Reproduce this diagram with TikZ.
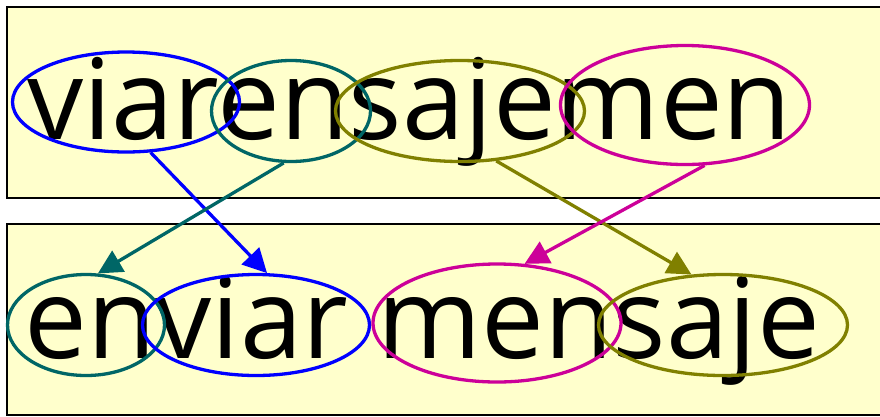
\documentclass[tikz,border=0pt]{standalone}
\usepackage{fontspec}
\setmainfont{Open Sans}
\usetikzlibrary{shapes.geometric,arrows.meta}
\definecolor{cblue}{RGB}{0,0,255}
\definecolor{cteal}{RGB}{0,102,102}
\definecolor{colive}{RGB}{128,128,0}
\definecolor{cmag}{RGB}{204,0,153}
\definecolor{bgyel}{RGB}{255,255,204}
\begin{document}
\begin{tikzpicture}[x=1pt,y=-1pt,
  panel/.style={draw=black,line width=1.5pt,fill=bgyel},
  word/.style={inner sep=0pt,anchor=base west,font=\fontsize{112}{116}\selectfont},
  ell/.style={ellipse,draw=#1,line width=3.3pt,inner sep=0pt},
  arr/.style={draw=#1,line width=3.3pt,-{Triangle[length=24pt,width=24pt]}}]
\useasboundingbox (0,0) rectangle (880,416);
\clip (0,0) rectangle (880,416);
\draw[panel] (7,7) rectangle (895,198);
\draw[panel] (7,224) rectangle (895,415);
\node[word] (ttext) at (27,139) {viarensajemen};
\node[word] (btext) at (24,358) {enviar mensaje};
% top ellipses
\node[ell=cblue,minimum width=227pt,minimum height=100pt] (tviar) at (126,102) {};
\node[ell=cteal,minimum width=159pt,minimum height=101pt] (ten) at (291,111) {};
\node[ell=colive,minimum width=249pt,minimum height=101pt] (tsaje) at (460,111) {};
\node[ell=cmag,minimum width=249pt,minimum height=119pt] (tmen) at (685,105) {};
% bottom ellipses
\node[ell=cteal,minimum width=157pt,minimum height=101pt] (ben) at (86,325) {};
\node[ell=cblue,minimum width=227pt,minimum height=101pt] (bviar) at (256,325) {};
\node[ell=cmag,minimum width=248pt,minimum height=118pt] (bmen) at (497,323) {};
\node[ell=colive,minimum width=249pt,minimum height=101pt] (bsaje) at (723,325) {};
% arrows
\draw[arr=cblue] (tviar.-64) -- (bviar.78);
\draw[arr=cteal] (ten.-98) -- (ben.77);
\draw[arr=colive] (tsaje.-54) -- (bsaje.122);
\draw[arr=cmag] (tmen.-72) -- (bmen.65);
\end{tikzpicture}
\end{document}
